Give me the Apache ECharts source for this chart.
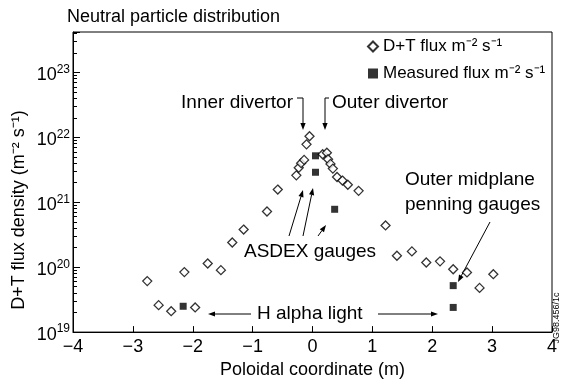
<!DOCTYPE html>
<html>
<head>
<meta charset="utf-8">
<script src="https://cdn.jsdelivr.net/npm/echarts@6/dist/echarts.min.js"></script>
<style>
  html, body { margin: 0; padding: 0; background: #fff; }
  #main { width: 564px; height: 384px; }
</style>
</head>
<body>
<div id="main"></div>
<script>
// D+T flux (open diamonds), poloidal coordinate in m, flux in m^-2 s^-1
const dtX = [-2.76, -2.57, -2.36, -2.14, -1.96, -1.75, -1.53, -1.34, -1.15, -0.76, -0.58,
             -0.27, -0.23, -0.19, -0.14, -0.10, -0.05,
             0.17, 0.24, 0.26, 0.30, 0.34, 0.41, 0.50, 0.59, 0.77,
             1.22, 1.41, 1.66, 1.90, 2.13, 2.35, 2.58, 2.79, 3.02];
const dtY = [6.1e19, 2.6e19, 2.1e19, 8.4e19, 2.4e19, 1.14e20, 9.0e19, 2.4e20, 3.8e20, 7.2e20, 1.57e21,
             2.6e21, 3.4e21, 4.0e21, 4.5e21, 7.8e21, 1.04e22,
             5.5e21, 5.8e21, 4.6e21, 3.9e21, 3.3e21, 2.45e21, 2.16e21, 1.86e21, 1.5e21,
             4.4e20, 1.5e20, 1.75e20, 1.18e20, 1.23e20, 9.3e19, 8.3e19, 4.8e19, 7.8e19];

// Measured flux (filled squares)
const measX = [-2.16, 0.05, 0.05, 0.37, 2.35, 2.35];
const measY = [2.5e19, 5.2e21, 2.9e21, 7.8e20, 5.2e19, 2.4e19];

const seriesNames = ['D+T flux m\u207B\u00B2 s\u207B\u00B9', 'Measured flux m\u207B\u00B2 s\u207B\u00B9'];

// axes
const xTicks = [-4, -3, -2, -1, 0, 1, 2, 3, 4];
const yExponents = [19, 20, 21, 22, 23];
const yMin = 1e19, yMax = 4.2e23;

const font = 'Liberation Sans, Arial, Helvetica, sans-serif';

// minor log ticks 2..9 inside each decade
const minorTicks = [];
yExponents.forEach(e => {
    for (let m = 2; m <= 9; m++) {
        const v = m * Math.pow(10, e);
        if (v < yMax) minorTicks.push(v);
    }
});

function zip(xs, ys) {
    return xs.map((x, i) => [x, ys[i]]);
}

function arrow(x1, y1, x2, y2) {
    const a = Math.atan2(y2 - y1, x2 - x1);
    const L = 7, W = 2.6;
    const bx = x2 - L * Math.cos(a), by = y2 - L * Math.sin(a);
    const px = -Math.sin(a) * W, py = Math.cos(a) * W;
    return [
        {type: 'line', shape: {x1: x1, y1: y1, x2: bx, y2: by}, style: {stroke: '#000', lineWidth: 1}},
        {type: 'polygon', shape: {points: [[x2, y2], [bx + px, by + py], [bx - px, by - py]]}, style: {fill: '#000'}}
    ];
}

function segment(x1, y1, x2, y2) {
    return {type: 'line', shape: {x1: x1, y1: y1, x2: x2, y2: y2}, style: {stroke: '#000', lineWidth: 1}};
}

function label(text, x, y, align) {
    return {
        type: 'text', x: x, y: y,
        style: {text: text, fill: '#000', font: '19px ' + font, textAlign: align || 'left', textVerticalAlign: 'middle'}
    };
}

const chart = echarts.init(document.getElementById('main'));

const graphics = [].concat(
    [
        label('Inner divertor', 293, 103, 'right'),
        label('Outer divertor', 332, 103),
        label('ASDEX gauges', 244, 252),
        label('H alpha light', 257, 314),
        label('Outer midplane', 405, 180),
        label('penning gauges', 405, 205),
        {
            type: 'text', x: 19, y: 210, rotation: Math.PI / 2,
            style: {text: 'D+T flux density (m\u207B\u00B2 s\u207B\u00B9)', fill: '#000', font: '18px ' + font,
                    textAlign: 'center', textVerticalAlign: 'middle'}
        },
        {
            type: 'text', x: 557, y: 318, rotation: Math.PI / 2,
            style: {text: 'JG98.456/1c', fill: '#000', font: '9px ' + font,
                    textAlign: 'center', textVerticalAlign: 'middle'}
        },
        segment(297, 98, 303, 98),
        segment(329, 98, 325, 98)
    ],
    arrow(303, 98, 303, 130),
    arrow(325, 98, 325, 130),
    arrow(289, 236, 303, 190),
    arrow(303, 236, 313, 188),
    arrow(318, 236, 326, 225),
    arrow(251, 314, 208, 314),
    arrow(378, 314, 438, 314),
    arrow(490, 222, 458, 282)
);

const option = {
    animation: false,
    backgroundColor: '#fff',
    title: {
        text: 'Neutral particle distribution',
        left: 67, top: 8, padding: 0,
        textStyle: {fontSize: 18, fontWeight: 'normal', color: '#000', fontFamily: font}
    },
    legend: {
        data: [
            {name: seriesNames[0], icon: 'diamond'},
            {name: seriesNames[1], icon: 'rect'}
        ],
        orient: 'vertical',
        left: 362, top: 33,
        itemWidth: 10, itemHeight: 10, itemGap: 10,
        textStyle: {fontSize: 17, color: '#000', fontFamily: font}
    },
    grid: {
        left: 73, right: 12, top: 32, bottom: 46,
        show: true, borderColor: '#000', borderWidth: 1
    },
    xAxis: {
        type: 'value', min: -4, max: 4, interval: 1,
        name: 'Poloidal coordinate (m)', nameLocation: 'middle', nameGap: 24,
        nameTextStyle: {fontSize: 18, color: '#000', fontFamily: font},
        axisLine: {onZero: false, lineStyle: {color: '#000', width: 1}},
        axisTick: {inside: true, length: 6, lineStyle: {color: '#000'}},
        axisLabel: {
            margin: 6, fontSize: 18, color: '#000', fontFamily: font,
            formatter: v => xTicks.includes(v) ? String(v).replace('-', '\u2212') : ''
        },
        splitLine: {show: false}
    },
    yAxis: [
        {
            type: 'log', logBase: 10, min: yMin, max: yMax, position: 'left',
            axisLine: {show: true, onZero: false, lineStyle: {color: '#000', width: 1}},
            axisTick: {inside: true, length: 7, lineStyle: {color: '#000'}},
            axisLabel: {
                margin: 3, color: '#000', fontFamily: font,
                formatter: function (v) {
                    const e = Math.round(Math.log10(v));
                    if (Math.abs(Math.log10(v) - e) > 1e-6 || !yExponents.includes(e)) return '';
                    return '{b|10}{e|' + e + '}';
                },
                rich: {
                    b: {fontSize: 18, fontFamily: font, color: '#000', padding: [6, 0, 0, 0]},
                    e: {fontSize: 12, fontFamily: font, color: '#000', padding: [0, 0, 6, 0]}
                }
            },
            splitLine: {show: false}
        },
        {
            type: 'log', logBase: 10, min: yMin, max: yMax, position: 'left', offset: 0,
            axisLine: {show: false, onZero: false},
            axisLabel: {show: false},
            axisTick: {show: true, inside: true, length: 4, customValues: minorTicks, lineStyle: {color: '#000'}},
            splitLine: {show: false}
        }
    ],
    series: [
        {
            name: seriesNames[0],
            type: 'scatter',
            symbol: 'diamond',
            symbolSize: 9,
            data: zip(dtX, dtY),
            itemStyle: {color: '#fff', borderColor: '#000', borderWidth: 1.3},
            z: 2
        },
        {
            name: seriesNames[1],
            type: 'scatter',
            symbol: 'rect',
            symbolSize: 7,
            data: zip(measX, measY),
            itemStyle: {color: '#000'},
            z: 3
        }
    ],
    graphic: graphics
};

chart.setOption(option);
</script>
</body>
</html>
